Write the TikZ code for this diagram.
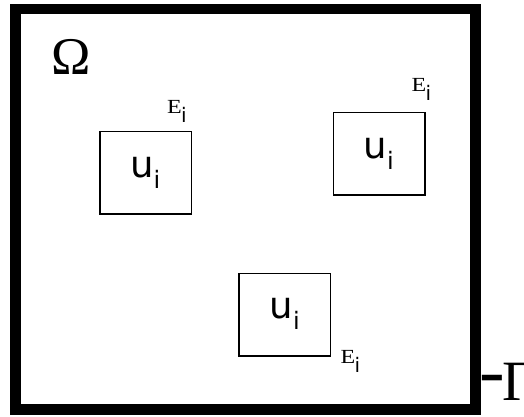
\documentclass[tikz,border=0pt]{standalone}
\usepackage{fontspec}
\setmainfont{Liberation Serif}
\newfontfamily\dvs{DejaVu Sans}
\newcommand\ulab{{\dvs\fontsize{37}{37}\selectfont u\raisebox{-11pt}{\fontsize{24}{24}\selectfont i}}}
\newcommand\Elab{{\fontsize{20}{20}\selectfont\scalebox{1.2}[1]{E}\kern-0.5pt\raisebox{-9pt}{\dvs\fontsize{20}{20}\selectfont i}}}
\begin{document}
\begin{tikzpicture}[x=1pt,y=-1pt,
  frame/.style={draw, line width=10.5pt, minimum width=460pt, minimum height=400.5pt, inner sep=0pt},
  sq/.style={draw, line width=1.3pt, minimum width=91.7pt, minimum height=82.5pt, inner sep=0pt},
  lab/.style={anchor=base west, inner sep=0pt, outer sep=0pt}]
\useasboundingbox (0,0) rectangle (524,417);
\node[frame] (dom) at (245.5,209.25) {};
\node[sq] (s1) at (145.8,172.8) {};
\node[sq] (s2) at (379.2,153.8) {};
\node[sq] (s3) at (284.7,314.8) {};
\node[lab] (om) at (51.3,75) {\fontsize{53}{53}\selectfont Ω};
\node[lab] (u1) at (130.2,177) {\ulab};
\node[lab] (u2) at (363.6,158.3) {\ulab};
\node[lab] (u3) at (269.6,318) {\ulab};
\node[lab] (e1) at (167,113.3) {\Elab};
\node[lab] (e2) at (411.5,91.7) {\Elab};
\node[lab] (e3) at (340.5,363) {\Elab};
\node[lab] (gam) at (479.4,400) {\fontsize{57}{57}\selectfont\raisebox{4.5pt}{\scalebox{1.35}[1.3]{-}}\kern-3pt Γ};
\end{tikzpicture}
\end{document}
